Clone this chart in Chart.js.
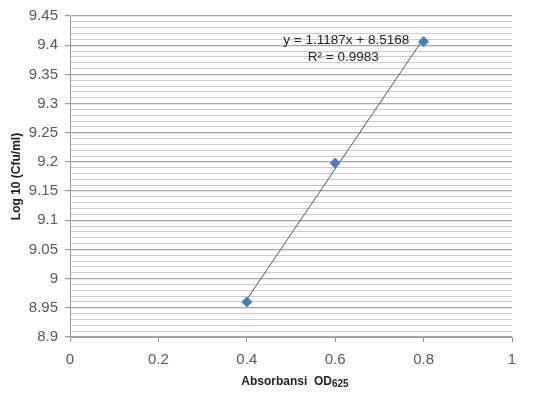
<!DOCTYPE html>
<html><head><meta charset="utf-8">
<script src="https://cdn.jsdelivr.net/npm/chart.js@4.4.1/dist/chart.umd.min.js"></script>
<style>html,body{margin:0;padding:0;background:#fff}#w{width:536px;height:396px}</style>
</head><body><div id="w"><canvas id="c"></canvas></div>
<script>
const absorbance = [0.4, 0.6, 0.8];
const logCfu = [8.96, 9.198, 9.406];
const slope = 1.1187;
const intercept = 8.5168;
const equationText = 'y = 1.1187x + 8.5168';
const r2Text = 'R² = 0.9983';
const xTicks = [0, 0.2, 0.4, 0.6, 0.8, 1];
const xTitle = 'Absorbansi  OD';
const xTitleSub = '625';
const yTitle = 'Log 10 (Cfu/ml)';

const points = absorbance.map((x, i) => ({x, y: logCfu[i]}));
const xMinT = absorbance[0], xMaxT = absorbance[absorbance.length - 1];
const trend = [{x: xMinT, y: slope * xMinT + intercept}, {x: xMaxT, y: slope * xMaxT + intercept}];

const isMajor = v => Math.round(v * 100) % 5 === 0;
const FONT = "'Liberation Sans', Arial, sans-serif";

const textPlugin = {
  id: 'texts',
  afterDraw(chart) {
    const {ctx, chartArea, scales} = chart;
    ctx.save();
    ctx.fillStyle = '#222';
    ctx.font = '13.5px ' + FONT;
    ctx.textAlign = 'center';
    ctx.textBaseline = 'middle';
    const xs = scales.x, ys = scales.y;
    const cx = xs.getPixelForValue(0.625);
    ctx.fillText(equationText, cx, ys.getPixelForValue(9.408));
    ctx.fillText(r2Text, cx - 3, ys.getPixelForValue(9.38));
    // x title with subscript
    ctx.font = 'bold 12px ' + FONT;
    ctx.textAlign = 'left';
    const mainW = ctx.measureText(xTitle).width;
    ctx.font = 'bold 10px ' + FONT;
    const subW = ctx.measureText(xTitleSub).width;
    const mid = (chartArea.left + chartArea.right) / 2 + 4;
    const x0 = mid - (mainW + subW) / 2;
    const yb = 382;
    ctx.font = 'bold 12px ' + FONT;
    ctx.fillText(xTitle, x0, yb);
    ctx.font = 'bold 10px ' + FONT;
    ctx.fillText(xTitleSub, x0 + mainW, yb + 2);
    // y title
    ctx.translate(17, (chartArea.top + chartArea.bottom) / 2);
    ctx.rotate(-Math.PI / 2);
    ctx.font = 'bold 12px ' + FONT;
    ctx.textAlign = 'center';
    ctx.fillText(yTitle, 0, 0);
    ctx.restore();
  }
};

new Chart(document.getElementById('c'), {
  type: 'scatter',
  data: {
    datasets: [
      {
        type: 'line',
        data: trend,
        borderColor: '#555',
        borderWidth: 1,
        pointRadius: 0,
        fill: false,
        order: 2
      },
      {
        data: points,
        pointStyle: 'rectRot',
        pointRadius: 5,
        pointBackgroundColor: '#4a7ebb',
        pointBorderColor: '#4a7ebb',
        order: 1
      }
    ]
  },
  options: {
    responsive: true,
    maintainAspectRatio: false,
    animation: false,
    layout: {padding: {left: 0, right: 24, top: 13, bottom: 0}},
    plugins: {legend: {display: false}, tooltip: {enabled: false}},
    scales: {
      x: {
        type: 'linear', min: 0, max: 1,
        afterBuildTicks: s => { s.ticks = xTicks.map(v => ({value: v})); },
        afterFit: s => { s.height = 59; },
        grid: {drawOnChartArea: false, drawTicks: true, tickLength: 5, color: '#999'},
        border: {color: '#999'},
        ticks: {color: '#595959', font: {family: FONT, size: 15}, padding: 9,
          callback: v => String(v)}
      },
      y: {
        type: 'linear', min: 8.9, max: 9.45,
        ticks: {stepSize: 0.01, autoSkip: false, color: '#595959', font: {family: FONT, size: 15}, padding: 7,
          callback: v => isMajor(v) ? (Math.round(v * 100) / 100).toString() : ''},
        afterFit: s => { s.width = 70; },
        grid: {
          color: ctx => isMajor(ctx.tick.value) ? '#a6a6a6' : '#cccccc',
          tickColor: ctx => isMajor(ctx.tick.value) ? '#999' : 'rgba(0,0,0,0)',
          tickLength: 5,
          lineWidth: ctx => isMajor(ctx.tick.value) ? 1.2 : 1
        },
        border: {color: '#999'}
      }
    }
  },
  plugins: [textPlugin]
});
</script>
</body></html>
